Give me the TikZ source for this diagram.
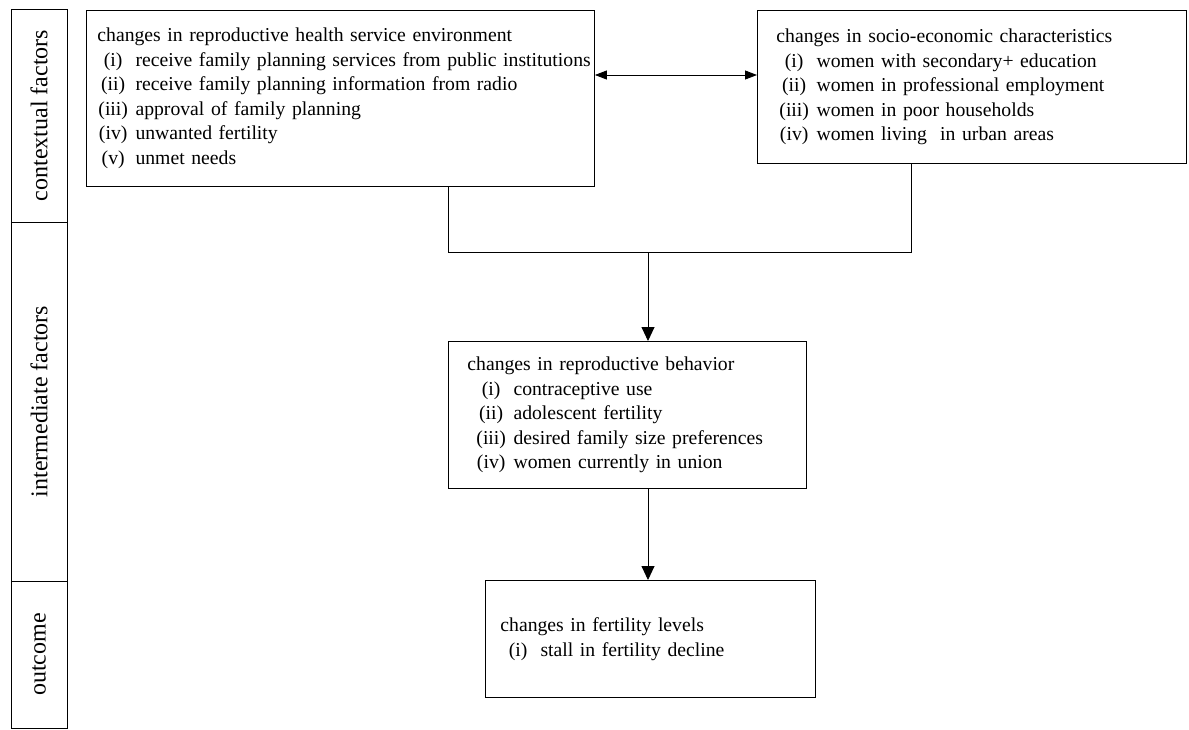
\documentclass[tikz,border=0pt]{standalone}
\usepackage{fontspec}
\setmainfont{Liberation Serif}
\usetikzlibrary{arrows.meta}
\newcommand{\boxfont}{\fontsize{19.7}{24.5}\selectfont}
\newcommand{\barfont}{\fontsize{24}{28}\selectfont}
\newcommand{\itm}[3][0pt]{\mbox{\hspace*{#1}\makebox[1.6em][c]{#2}\ #3}}
\newcommand{\hd}[1]{\mbox{#1}}

\begin{document}
\begin{tikzpicture}[x=1pt,y=-1pt,
    box/.style={draw, line width=0.9pt, anchor=north west, align=left, inner ysep=0pt, font=\boxfont},
    sidebox/.style={draw, line width=0.9pt, rotate=90, inner sep=0pt, minimum height=56pt, font=\barfont},
    arr/.style={-{Triangle[length=14pt,width=13pt]}, line width=0.9pt},
    dblarr/.style={{Triangle[length=12pt,width=9pt]}-{Triangle[length=12pt,width=9pt]}, line width=0.9pt}]

    % Fix the picture size
    \useasboundingbox (0,0) rectangle (1189,729);

    % Side bar with the three levels
    \node[sidebox, minimum width=213pt] (ctx) at (39,115.5) {contextual factors};
    \node[sidebox, minimum width=359pt] (mid) at (39,401.5) {intermediate factors};
    \node[sidebox, minimum width=147pt] (out) at (39,654.5) {outcome};

    % Contextual factors
    \node[box, inner xsep=11pt, text width=486pt, minimum height=176pt] (hse) at (86,10) {%
        \hd{changes in reproductive health service environment}\\
        \itm{(i)}{receive family planning services from public institutions}\\
        \itm{(ii)}{receive family planning information from radio}\\
        \itm{(iii)}{approval of family planning}\\
        \itm{(iv)}{unwanted fertility}\\
        \itm{(v)}{unmet needs}};
    \node[box, inner xsep=19pt, text width=391pt, minimum height=153pt] (soc) at (757,10) {%
        \hd{changes in socio-economic characteristics}\\
        \itm[2pt]{(i)}{women with secondary+ education}\\
        \itm[2pt]{(ii)}{women in professional employment}\\
        \itm[2pt]{(iii)}{women in poor households}\\
        \itm[2pt]{(iv)}{women living~ in urban areas}};

    % Intermediate factors
    \node[box, inner xsep=19pt, text width=320pt, minimum height=147pt] (beh) at (448,341) {%
        \hd{changes in reproductive behavior}\\
        \itm[8pt]{(i)}{contraceptive use}\\
        \itm[8pt]{(ii)}{adolescent fertility}\\
        \itm[8pt]{(iii)}{desired family size preferences}\\
        \itm[8pt]{(iv)}{women currently in union}};

    % Outcome
    \node[box, inner xsep=15pt, text width=300pt, minimum height=117pt] (fert) at (485,580) {%
        \hd{changes in fertility levels}\\
        \itm[2pt]{(i)}{stall in fertility decline}};

    % Connectors
    \coordinate (jl) at (448,252);
    \coordinate (jr) at (911,252);
    \coordinate (jm) at (648,252);
    \coordinate (dy) at (0,75);
    \draw[dblarr] (hse.east |- dy) -- (soc.west |- dy);
    \draw[line width=0.9pt] (hse.south -| jl) -- (jl) -- (jr) -- (soc.south -| jr);
    \draw[arr] (jm) -- (beh.north -| jm);
    \draw[arr] (beh.south -| jm) -- (fert.north -| jm);
\end{tikzpicture}
\end{document}
